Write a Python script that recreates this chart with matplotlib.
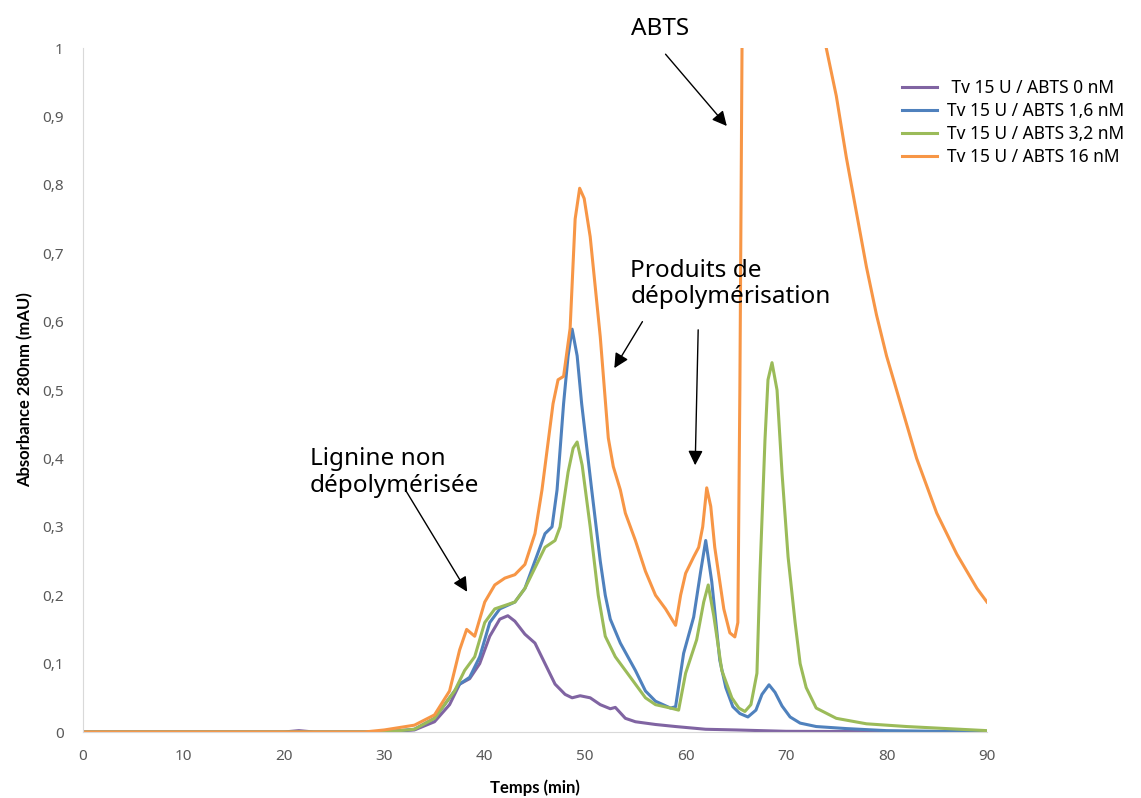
import numpy as np
import matplotlib
matplotlib.use('Agg')
import matplotlib.pyplot as plt
from matplotlib.ticker import FuncFormatter

plt.rcParams['font.family'] = ['Noto Sans', 'DejaVu Sans']

# Chromatograms (time in min, absorbance)
t_0nM = [0, 20, 21.5, 23, 30, 33, 35, 36.5, 37.5, 38.5, 39.5, 40.5, 41.5, 42.3, 43, 44, 45, 46, 47,
         48, 48.7, 49.5, 50.5, 51.5, 52.5, 53, 54, 55, 57, 59, 62, 65, 70, 90]
a_0nM = [0, 0, 0.002, 0, 0, 0.003, 0.015, 0.04, 0.07, 0.078, 0.1, 0.14, 0.165, 0.17, 0.162, 0.143,
         0.13, 0.1, 0.07, 0.055, 0.05, 0.053, 0.05, 0.04, 0.034, 0.036, 0.02, 0.015, 0.011, 0.008,
         0.004, 0.003, 0.001, 0]

t_1_6nM = [0, 30, 33, 35, 36.5, 37.5, 38.5, 39.5, 40.5, 41.5, 43, 44, 45, 46, 46.7, 47.2, 47.85,
           48.3, 48.7, 49.2, 49.65, 50.65, 51.5, 52, 52.5, 53.5, 55, 56, 57, 58.5, 59, 59.8, 60.8,
           61.5, 62, 62.6, 63.4, 64.0, 64.7, 65.4, 66.2, 67, 67.6, 68.3, 68.9, 69.6, 70.4, 71.4,
           73, 76, 80, 90]
a_1_6nM = [0, 0, 0.004, 0.02, 0.05, 0.07, 0.08, 0.11, 0.16, 0.18, 0.19, 0.21, 0.25, 0.29, 0.3,
           0.354, 0.48, 0.55, 0.589, 0.55, 0.48, 0.354, 0.25, 0.2, 0.165, 0.13, 0.09, 0.06, 0.045,
           0.035, 0.037, 0.115, 0.168, 0.235, 0.28, 0.22, 0.105, 0.065, 0.037, 0.027, 0.022, 0.032,
           0.055, 0.069, 0.058, 0.038, 0.022, 0.013, 0.008, 0.005, 0.002, 0]

t_3_2nM = [0, 30, 33, 35, 37, 38, 39, 40, 41, 43, 44, 45, 46, 47, 47.5, 48.3, 48.8, 49.2, 49.7,
           50.5, 51.3, 52, 53, 54, 55, 56, 57, 58.5, 59.3, 60, 61.1, 61.8, 62.25, 62.8, 63.6, 64.6,
           65.3, 65.9, 66.5, 67.1, 67.4, 67.9, 68.2, 68.6, 69.1, 69.6, 70.2, 70.9, 71.4, 72, 73,
           75, 78, 82, 86, 90]
a_3_2nM = [0, 0, 0.004, 0.02, 0.06, 0.09, 0.11, 0.16, 0.18, 0.19, 0.21, 0.24, 0.27, 0.28, 0.3,
           0.38, 0.415, 0.424, 0.39, 0.3, 0.2, 0.14, 0.11, 0.09, 0.07, 0.05, 0.04, 0.035, 0.032,
           0.086, 0.135, 0.19, 0.215, 0.17, 0.09, 0.05, 0.035, 0.03, 0.04, 0.086, 0.232, 0.427,
           0.515, 0.54, 0.5, 0.378, 0.256, 0.16, 0.1, 0.065, 0.035, 0.02, 0.012, 0.008, 0.005,
           0.002]

t_16nM = [0, 28, 30, 33, 35, 36.5, 37.5, 38.2, 39, 40, 41, 42, 43, 44, 45, 45.7, 46.8, 47.3, 47.85,
          48.5, 49.0, 49.45, 49.9, 50.5, 51.5, 52.3, 52.8, 53.5, 54, 55, 56, 57, 58, 59, 59.5, 60,
          60.8, 61.3, 61.7, 62.1, 62.5, 62.9, 63.8, 64.4, 64.9, 65.2, 65.4, 65.7, 66, 68, 70, 72, 74,
          75, 76, 77, 78, 79, 80, 81, 82, 83, 84, 85, 86, 87, 88, 89, 90]
a_16nM = [0, 0, 0.003, 0.01, 0.025, 0.06, 0.12, 0.15, 0.14, 0.19, 0.215, 0.225, 0.23, 0.245, 0.29,
          0.354, 0.48, 0.515, 0.52, 0.59, 0.75, 0.795, 0.78, 0.724, 0.578, 0.43, 0.388, 0.354, 0.32,
          0.28, 0.235, 0.2, 0.18, 0.156, 0.2, 0.232, 0.256, 0.27, 0.3, 0.357, 0.33, 0.27, 0.18,
          0.145, 0.139, 0.16, 0.5, 1.2, 2.0, 3.0, 3.0, 2.0, 1.0, 0.93, 0.84, 0.76, 0.68, 0.61, 0.55,
          0.5, 0.45, 0.4, 0.36, 0.32, 0.29, 0.26, 0.235, 0.21, 0.19]

labels = [' Tv 15 U / ABTS 0 nM', 'Tv 15 U / ABTS 1,6 nM', 'Tv 15 U / ABTS 3,2 nM', 'Tv 15 U / ABTS 16 nM']
colors = ['#8064A2', '#4F81BD', '#9BBB59', '#F79646']

fig = plt.figure(figsize=(11.41, 7.98), dpi=100)
ax = fig.add_axes([0.0727, 0.0827, 0.7923, 0.8571])

series = [(t_0nM, a_0nM), (t_1_6nM, a_1_6nM), (t_3_2nM, a_3_2nM), (t_16nM, a_16nM)]
for (t, a), lab, col in zip(series, labels, colors):
    ax.plot(t, a, color=col, lw=2.2, label=lab, solid_joinstyle='round')

ax.set_xlim(0, 90)
ax.set_ylim(0, 1)
ax.set_xticks(np.arange(0, 91, 10))
ax.set_yticks(np.arange(0, 1.01, 0.1))
ax.yaxis.set_major_formatter(FuncFormatter(lambda v, p: '{:g}'.format(round(v, 1)).replace('.', ',')))
ax.tick_params(length=0, labelsize=11, labelcolor='#595959')
ax.tick_params(axis='y', pad=14)
ax.tick_params(axis='x', pad=12)
for s in ['top', 'right']:
    ax.spines[s].set_visible(False)
for s in ['left', 'bottom']:
    ax.spines[s].set_color('#D9D9D9')

ax.set_xlabel('Temps (min)', fontsize=12, fontweight='bold', family='Lato', labelpad=11)
ax.set_ylabel('Absorbance 280nm (mAU)', fontsize=12, fontweight='bold', family='Lato', labelpad=6)

arrow = dict(arrowstyle='-|>', color='black', lw=1, mutation_scale=22, shrinkA=0, shrinkB=0)
ax.annotate('ABTS', xy=(64.1, 0.886), xytext=(57.5, 1.028), fontsize=17.5, ha='center', va='center',
            annotation_clip=False)
ax.annotate('', xy=(64.1, 0.886), xytext=(58.0, 0.991), arrowprops=arrow, annotation_clip=False)

ax.text(54.5, 0.655, 'Produits de\ndépolymérisation', fontsize=17.5, ha='left', va='center',
        linespacing=1.15)
ax.annotate('', xy=(52.9, 0.532), xytext=(55.7, 0.60), arrowprops=arrow)
ax.annotate('', xy=(60.95, 0.39), xytext=(61.25, 0.588), arrowprops=arrow)

ax.text(22.6, 0.379, 'Lignine non\ndépolymérisée', fontsize=17.5, ha='left', va='center',
        linespacing=1.15)
ax.annotate('', xy=(38.25, 0.205), xytext=(32.1, 0.354), arrowprops=arrow)

ax.legend(loc='upper left', bbox_to_anchor=(0.777, 0.92), bbox_transform=fig.transFigure,
          frameon=False, fontsize=12.5, handlelength=2.0, labelspacing=0.28, handletextpad=0.6)

fig.savefig('out.png', dpi=100)
